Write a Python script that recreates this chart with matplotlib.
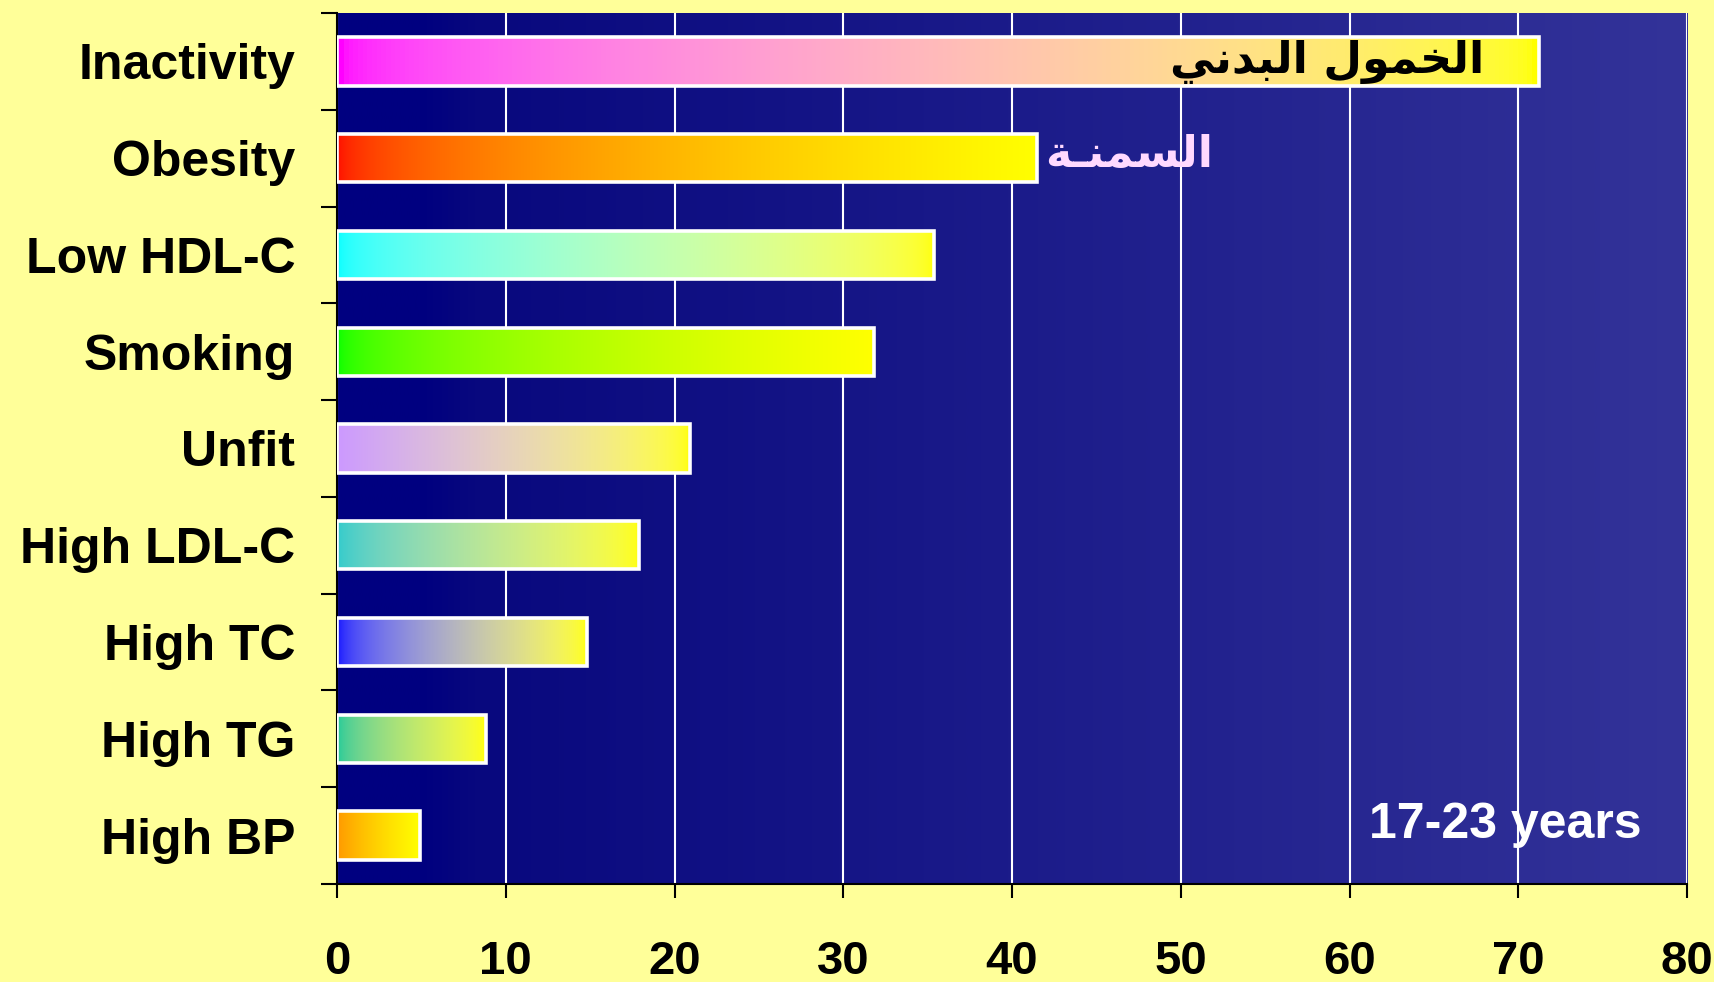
import numpy as np
import matplotlib
matplotlib.use('Agg')
import matplotlib.pyplot as plt
from matplotlib.colors import LinearSegmentedColormap, ListedColormap, to_rgb

categories = ['Inactivity', 'Obesity', 'Low HDL-C', 'Smoking', 'Unfit',
              'High LDL-C', 'High TC', 'High TG', 'High BP']
values = [71.2, 41.5, 35.4, 31.8, 20.9, 17.9, 14.8, 8.8, 4.9]
start_colors = ['#FF00FF', '#FF1000', '#00FFFF', '#00FF00', '#CC99FF',
                '#33CCCC', '#1010FF', '#1FCC99', '#FF9900']
end_color = '#FFFF00'
xticks = [0, 10, 20, 30, 40, 50, 60, 70, 80]
xtick_labels = ['0', '10', '20', '30', '40', '50', '60', '70', '80']

# Arabic annotations (presentation forms, visual order)
ar_inactivity = '\uFE8D\uFEDF\uFEA8\uFEE4\uFEEE\uFEDD \uFE8D\uFEDF\uFE92\uFEAA\uFEE7\uFEF2'[::-1]
ar_obesity = '\uFE8D\uFEDF\uFEB4\uFEE4\uFEE8\u0640\uFE94'[::-1]
age_label = '17-23 years'


def gamma_cmap(c0, c1, gamma=2.2, n=256):
    a = np.array(to_rgb(c0)) ** gamma
    b = np.array(to_rgb(c1)) ** gamma
    t = np.linspace(0, 1, n)[:, None]
    cols = ((1 - t) * a + t * b) ** (1 / gamma)
    return ListedColormap(cols)


fig = plt.figure(figsize=(17.15, 9.82), dpi=100, facecolor='#FFFF99')
ax = fig.add_axes([0.1965, 0.0998, 0.7872, 0.887])

# background gradient
bg_cmap = LinearSegmentedColormap.from_list(
    'bg', [(0.0, '#000080'), (0.06, '#000080'), (0.1, '#08087E'), (1.0, '#333399')])
ax.imshow(np.linspace(0, 1, 512)[None, :], cmap=bg_cmap, aspect='auto',
          extent=(0, 80, -0.5, 8.5), zorder=0, interpolation='bilinear')

y = np.arange(len(categories))
bars = ax.barh(y, values, height=0.5, facecolor='none', edgecolor='white',
               linewidth=2.6, zorder=3)
for p, c in zip(bars.patches, start_colors):
    x0, y0, w, h = p.get_x(), p.get_y(), p.get_width(), p.get_height()
    ax.imshow(np.linspace(0, 1, 256)[None, :], cmap=gamma_cmap(c, end_color),
              aspect='auto', extent=(x0, x0 + w, y0, y0 + h), zorder=2,
              interpolation='bilinear')

ax.set_xlim(0, 80)
ax.set_ylim(8.5, -0.5)

ax.set_axisbelow(True)
ax.xaxis.grid(True, color='white', linewidth=1.5)
ax.yaxis.grid(False)

ax.set_xticks(xticks)
ax.set_xticklabels(xtick_labels, fontsize=34, fontweight='bold',
                   family='Liberation Sans')
ax.set_yticks(np.arange(-0.5, len(categories), 1.0))
ax.set_yticklabels([])
ax.set_yticks(y, minor=True)
ax.set_yticklabels(categories, minor=True, fontsize=36, fontweight='bold',
                   family='Liberation Sans')
ax.tick_params(axis='x', which='major', length=10, width=1.5, direction='out', pad=30)
ax.tick_params(axis='y', which='major', length=11.5, width=1.5, direction='out')
ax.tick_params(axis='y', which='minor', length=0, pad=30)

for s in ['top', 'right']:
    ax.spines[s].set_visible(False)
for s in ['left', 'bottom']:
    ax.spines[s].set_linewidth(1.5)
    ax.spines[s].set_color('black')

ax.text(68.0, 0.12, ar_inactivity, ha='right', va='baseline', color='black',
        fontsize=32, fontweight='bold', family='DejaVu Sans', zorder=5)
ax.text(51.9, 1.09, ar_obesity, ha='right', va='baseline', color='#FFD9FF',
        fontsize=32, fontweight='bold', family='DejaVu Sans', zorder=5)
ax.text(77.3, 8.02, age_label, ha='right', va='baseline', color='white',
        fontsize=36, fontweight='bold', family='Liberation Sans', zorder=5)

fig.savefig('out.png', dpi=100, facecolor=fig.get_facecolor())
